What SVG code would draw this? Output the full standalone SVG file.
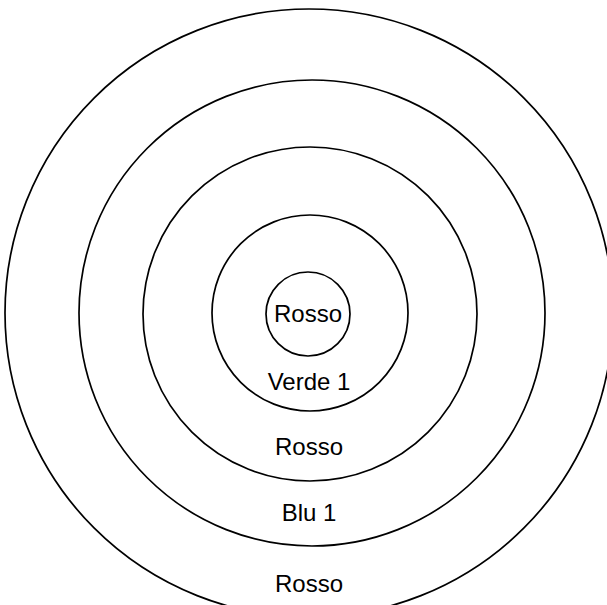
<svg xmlns="http://www.w3.org/2000/svg" width="607" height="605" viewBox="0 0 607 605">
<style>
.ring{fill:none;stroke:#000;stroke-width:1.7}
.lbl{font-family:"Liberation Sans",Arial,sans-serif;font-size:24px;fill:#000;text-anchor:middle}
</style>
<rect width="607" height="605" fill="#fff"/>
<g id="ring1"><circle class="ring" cx="309" cy="313" r="304"/><text class="lbl" x="309" y="592">Rosso</text></g>
<g id="ring2"><circle class="ring" cx="312" cy="313" r="233"/><text class="lbl" x="309" y="521">Blu 1</text></g>
<g id="ring3"><circle class="ring" cx="310" cy="314" r="167"/><text class="lbl" x="309" y="455">Rosso</text></g>
<g id="ring4"><circle class="ring" cx="310" cy="313" r="98"/><text class="lbl" x="309" y="390">Verde 1</text></g>
<g id="ring5"><circle class="ring" cx="308" cy="314" r="42"/><text class="lbl" x="308" y="322">Rosso</text></g>
<g id="connectors"></g>
</svg>
